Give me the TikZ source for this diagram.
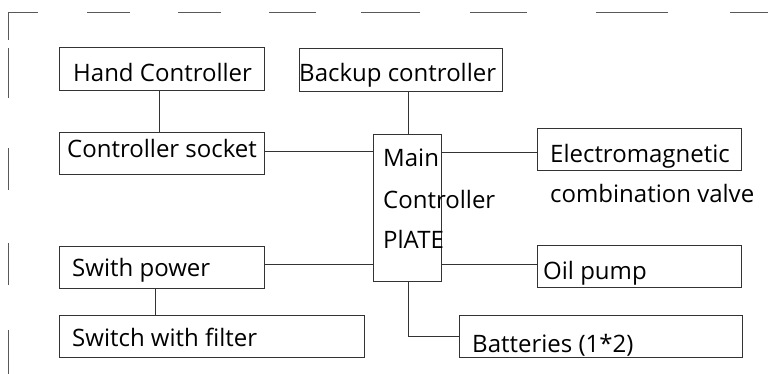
\documentclass[tikz,border=0pt]{standalone}
\usepackage{fontspec}
\setmainfont{Open Sans}
\begin{document}
\begin{tikzpicture}[x=1pt,y=1pt,
  box/.style={draw=black!80, line width=1pt, inner sep=0pt, rectangle},
  txt/.style={anchor=base west, inner sep=0pt, font=\fontsize{24}{28}\selectfont, text=black},
  wire/.style={draw=black!80, line width=0.9pt},
  frame/.style={draw=black!65, line width=0.8pt}]
\useasboundingbox (0,0) rectangle (768,374);

% dashed outer frame (top and left edges only)
\foreach \a/\b in {8/38, 87/130, 178/221, 269/316, 361/420, 470/527, 596/668, 730/768}
  \draw[frame] (\a,362) -- (\b,362);
\foreach \a/\b in {12/40, 48/98, 148/190, 243/285, 330/374}
  \draw[frame] (8,374-\a) -- (8,374-\b);

% boxes
\node[box, minimum width=205pt, minimum height=43pt] (hand)   at (161.5,304.5) {};
\node[box, minimum width=203pt, minimum height=43pt] (backup) at (400.5,303.5) {};
\node[box, minimum width=205pt, minimum height=42pt] (socket) at (161.5,220) {};
\node[box, minimum width=68pt,  minimum height=147pt] (main)  at (407,165.5) {};
\node[box, minimum width=204pt, minimum height=42pt] (emv)    at (639,224) {};
\node[box, minimum width=204pt, minimum height=42pt] (oil)    at (639,107) {};
\node[box, minimum width=283pt, minimum height=42pt] (batt)   at (600.5,37) {};
\node[box, minimum width=205pt, minimum height=42pt] (power)  at (161.5,106) {};
\node[box, minimum width=305pt, minimum height=42pt] (filter) at (211.5,37) {};

% labels
\node[txt] (thand)   at (73,292)  {Hand Controller};
\node[txt] (tbackup) at (299,292) {Backup controller};
\node[txt] (tsocket) at (67,216)  {Controller socket};
\node[txt] (tmain1)  at (383,207) {Main};
\node[txt] (tmain2)  at (383,165) {Controller};
\node[txt] (tmain3)  at (383,125) {PlATE};
\node[txt] (temv1)   at (550,211) {Electromagnetic};
\node[txt] (temv2)   at (550,171) {combination valve};
\node[txt] (toil)    at (543,94)  {Oil pump};
\node[txt] (tbatt)   at (472,21)  {Batteries (1*2)};
\node[txt] (tpower)  at (72,97)   {Swith power};
\node[txt] (tfilter) at (72,27)   {Switch with filter};

% connectors
\draw[wire] ([xshift=-2.5pt]hand.south) -- ([xshift=-2.5pt]socket.north);
\draw[wire] ([xshift=1pt]main.north) -- ([xshift=1pt]main.north |- backup.south);
\draw[wire] ([yshift=3pt]socket.east) -- ([yshift=3pt]socket.east -| main.west);
\draw[wire] ([yshift=-2pt]emv.west) -- ([yshift=-2pt]emv.west -| main.east);
\draw[wire] ([yshift=4pt]power.east) -- ([yshift=4pt]power.east -| main.west);
\draw[wire] ([yshift=3pt]oil.west) -- ([yshift=3pt]oil.west -| main.east);
\draw[wire] ([xshift=-6.5pt]power.south) -- ([xshift=-6.5pt]power.south |- filter.north);
\draw[wire] ([xshift=1pt]main.south) |- ([yshift=1pt]batt.west);
\end{tikzpicture}
\end{document}
